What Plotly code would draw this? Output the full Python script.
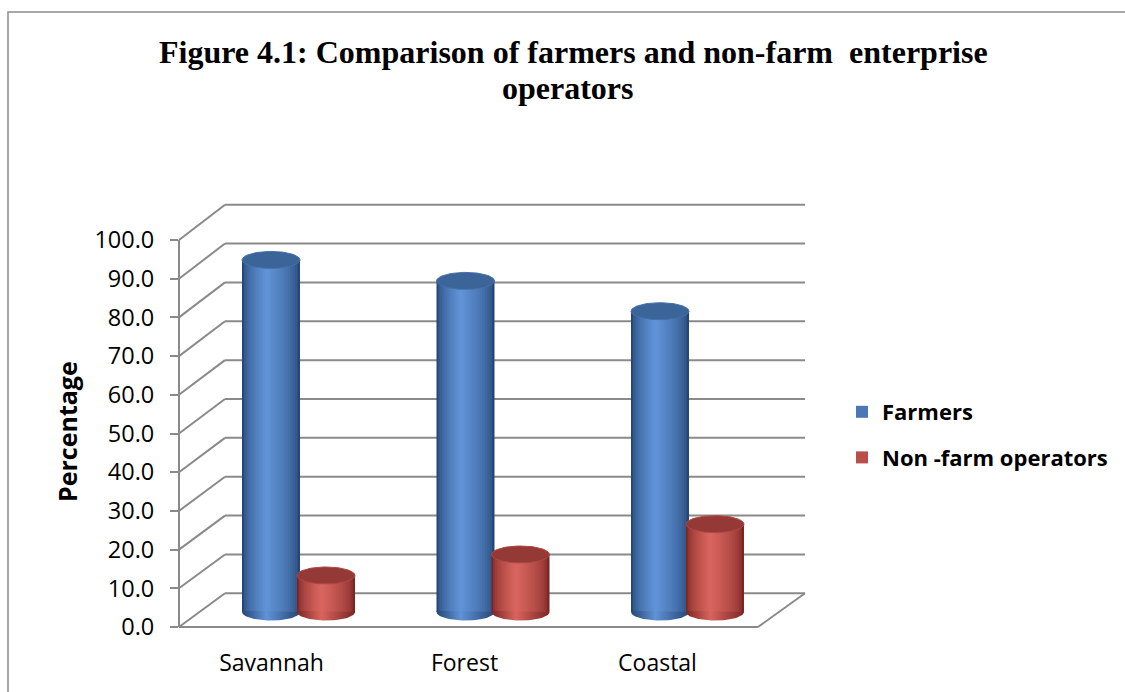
import plotly.graph_objects as go
import numpy as np

# ---------------- data ----------------
categories = ["Savannah", "Forest", "Coastal"]
farmers = [90.6, 85.2, 77.4]
non_farm = [9.4, 14.8, 22.6]
series_names = ["Farmers", "Non -farm operators"]
y_ticks = [0, 10, 20, 30, 40, 50, 60, 70, 80, 90, 100]
title_lines = ["Figure 4.1: Comparison of farmers and non-farm  enterprise", "operators"]
y_title = "Percentage"

# ---------------- layout geometry (pixels) ----------------
W_PX, H_PX = 1125, 692
def px(x):
    return x / W_PX
def py(y):
    return 1 - y / H_PX

FRONT_X0, FRONT_X1 = 179, 758
FRONT_Y0, FRONT_SCALE = 627, 3.87      # y pixel of 0, px per unit
BACK_X0, BACK_X1 = 225, 805
BACK_Y0, BACK_SCALE = 593.3, 3.886
BAR_Y0, BAR_SCALE = 612, 3.886
GROUP_PX = 194.5
GROUP0_PX = 298.5
BAR_PAD = 10   # value units below zero kept inside bar subplot (room for rounded bottoms)

GRID = "#8a8a8a"
FONT = "Open Sans"

fig = go.Figure()

# invisible trace so the front (labelled) axes are drawn
xidx = list(range(len(categories)))
fig.add_trace(go.Scatter(x=xidx, y=[50] * len(xidx), mode="markers",
                         marker=dict(opacity=0), showlegend=False, hoverinfo="skip",
                         xaxis="x", yaxis="y"))

# ---------------- cylinders ----------------
W = 58 / GROUP_PX            # bar width in category units
SEP = 27.5 / GROUP_PX        # half distance between the two bars of a group
CAP_B = 8.5 / BAR_SCALE      # ellipse half-height in value units
H = 0.42                     # highlight position
K = 14

palettes = [
    dict(edge=(36, 70, 118), high=(96, 146, 214), top="#3b6598", legend_k=6),
    dict(edge=(124, 38, 36), high=(216, 100, 94), top="#953936", legend_k=6),
]
offsets = [-SEP, SEP]

def mix(c1, c2, t):
    return "rgb(%d,%d,%d)" % tuple(round(a + (b - a) * t) for a, b in zip(c1, c2))

for s, vals in enumerate([farmers, non_farm]):
    pal = palettes[s]
    for k in range(K):
        t = (k / (K - 1)) ** 0.55
        wk = W * (1 - k / K)
        ok = offsets[s] - W / 2 + H * W * (k / K)
        fig.add_trace(go.Bar(
            x=xidx, y=vals, width=wk, offset=ok,
            marker=dict(color=mix(pal["edge"], pal["high"], t), line=dict(width=0)),
            name=series_names[s], legendgroup=series_names[s],
            showlegend=(k == pal["legend_k"]),
            hoverinfo="skip", xaxis="x3", yaxis="y3",
        ))

theta_low = np.linspace(np.pi, 2 * np.pi, 40)
theta_full = np.linspace(0, 2 * np.pi, 80)
for s, vals in enumerate([farmers, non_farm]):
    pal = palettes[s]
    cs = [[0, mix(pal["edge"], pal["edge"], 0)], [H, mix(pal["edge"], pal["high"], 1)],
          [1, mix(pal["edge"], pal["edge"], 0)]]
    for i, v in zip(xidx, vals):
        xc = i + offsets[s]
        # bottom rounded end
        bx = [xc - W / 2] + list(xc + W / 2 * np.cos(theta_low)) + [xc - W / 2]
        by = [0.3] + list(CAP_B * np.sin(theta_low)) + [0.3]
        fig.add_trace(go.Scatter(
            x=bx, y=by, mode="lines", line=dict(width=0), fill="toself",
            fillgradient=dict(type="horizontal", colorscale=cs),
            showlegend=False, hoverinfo="skip", xaxis="x3", yaxis="y3"))
        # top ellipse
        tx = xc + W / 2 * np.cos(theta_full)
        ty = v + CAP_B * np.sin(theta_full)
        fig.add_trace(go.Scatter(
            x=tx, y=ty, mode="lines", line=dict(width=1, color=mix(pal["edge"], pal["high"], 0.55)),
            fill="toself", fillcolor=pal["top"],
            showlegend=False, hoverinfo="skip", xaxis="x3", yaxis="y3"))

# ---------------- 3D frame (walls / floor) ----------------
shapes = []
def front_y(v):
    return FRONT_Y0 - v * FRONT_SCALE
def back_y(v):
    return BACK_Y0 - v * BACK_SCALE

for v in y_ticks:
    shapes.append(dict(type="line", xref="paper", yref="paper",
                       x0=px(BACK_X0), x1=px(BACK_X1), y0=py(back_y(v)), y1=py(back_y(v)),
                       line=dict(color=GRID, width=2), layer="below"))
    shapes.append(dict(type="line", xref="paper", yref="paper",
                       x0=px(FRONT_X0), x1=px(BACK_X0), y0=py(front_y(v)), y1=py(back_y(v)),
                       line=dict(color=GRID, width=2), layer="below"))
# floor front edge and right edge
shapes.append(dict(type="line", xref="paper", yref="paper",
                   x0=px(FRONT_X0), x1=px(FRONT_X1), y0=py(front_y(0)), y1=py(front_y(0)),
                   line=dict(color=GRID, width=2), layer="below"))
shapes.append(dict(type="line", xref="paper", yref="paper",
                   x0=px(FRONT_X1), x1=px(BACK_X1), y0=py(front_y(0)), y1=py(back_y(0)),
                   line=dict(color=GRID, width=2), layer="below"))
# outer frame
shapes.append(dict(type="rect", xref="paper", yref="paper",
                   x0=px(8), x1=px(1140), y0=py(12), y1=py(710),
                   line=dict(color="#8c8c8c", width=1.5), layer="below"))

# ---------------- annotations ----------------
annotations = [
    dict(text="<b>%s</b>" % title_lines[0], x=px(573), y=py(52), xref="paper", yref="paper",
         showarrow=False, xanchor="center", yanchor="middle",
         font=dict(family="Liberation Serif", size=32, color="black")),
    dict(text="<b>%s</b>" % title_lines[1], x=px(568), y=py(88), xref="paper", yref="paper",
         showarrow=False, xanchor="center", yanchor="middle",
         font=dict(family="Liberation Serif", size=32, color="black")),
    dict(text="<b>%s</b>" % y_title, x=px(67), y=py(432), xref="paper", yref="paper",
         showarrow=False, textangle=-90, xanchor="center", yanchor="middle",
         font=dict(family=FONT, size=25, color="black")),
]

ydomA = [py(front_y(0)), py(front_y(100))]
ydomC = [py(BAR_Y0 + BAR_PAD * BAR_SCALE), py(BAR_Y0 - 100 * BAR_SCALE)]
x3_left = GROUP0_PX - GROUP_PX / 2
x3_right = x3_left + GROUP_PX * len(categories)

fig.update_layout(
    width=W_PX, height=H_PX, autosize=False,
    margin=dict(l=0, r=0, t=0, b=0, pad=0, autoexpand=False),
    paper_bgcolor="white", plot_bgcolor="rgba(0,0,0,0)",
    barmode="overlay",
    shapes=shapes, annotations=annotations,
    # front axes (labels)
    xaxis=dict(domain=[px(FRONT_X0 - 4), px(FRONT_X1 - 4)], range=[-0.5, len(categories) - 0.5],
               tickmode="array", tickvals=xidx, ticktext=categories,
               showline=False, showgrid=False, zeroline=False, ticks="",
               ticklabelstandoff=20, fixedrange=True, automargin=False,
               tickfont=dict(family=FONT, size=23, color="black"), anchor="free",
               position=py(front_y(0))),
    yaxis=dict(domain=ydomA, range=[0, 100], tickmode="array", tickvals=y_ticks,
               tickformat=".1f", showline=True, linecolor=GRID, linewidth=2,
               ticks="outside", ticklen=8, tickwidth=2, tickcolor=GRID,
               ticklabelstandoff=11, fixedrange=True, automargin=False,
               showgrid=False, zeroline=False,
               tickfont=dict(family=FONT, size=23.5, color="black"), anchor="free",
               position=px(FRONT_X0)),
    # bar axes
    xaxis3=dict(domain=[px(x3_left), px(x3_right)], range=[-0.5, len(categories) - 0.5],
                visible=False, anchor="y3", automargin=False),
    yaxis3=dict(domain=ydomC, range=[-BAR_PAD, 100], visible=False, anchor="x3", automargin=False),
    legend=dict(x=px(842), y=py(391), xanchor="left", yanchor="top",
                font=dict(family=FONT, size=22, color="black", weight=700),
                traceorder="grouped", tracegroupgap=14, bgcolor="rgba(0,0,0,0)"),
    showlegend=True,
)

fig.write_html("out.html")
